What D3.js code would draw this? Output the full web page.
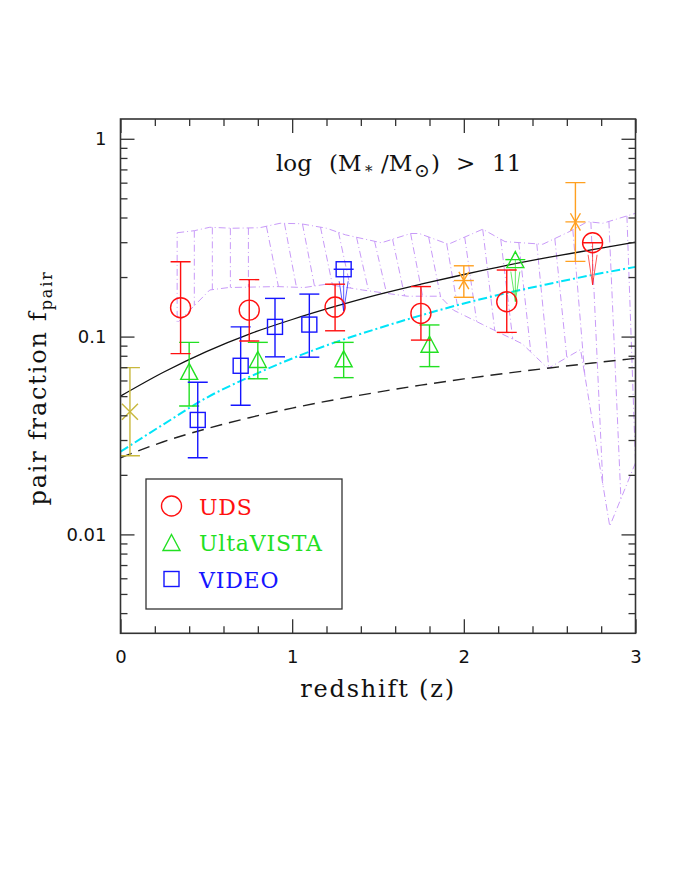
<!DOCTYPE html>
<html>
<head>
<meta charset="utf-8">
<script src="https://cdn.jsdelivr.net/npm/d3@7"></script>
<style>
body { margin: 0; background: #fff; }
text { font-family: "DejaVu Serif", serif; fill: #111; }
.tick text { font-family: "DejaVu Sans", sans-serif; font-size: 18px; fill: #111; }
.tick line { stroke: #333; stroke-width: 1.3; }
</style>
</head>
<body>
<svg id="chart" width="692" height="896"></svg>
<script>
// UDS (circles)
var udsZ = [0.35, 0.75, 1.25, 1.75, 2.25];
var udsF = [0.140, 0.136, 0.141, 0.131, 0.150];
var udsLo = [0.082, 0.095, 0.107, 0.096, 0.105];
var udsHi = [0.239, 0.194, 0.184, 0.179, 0.217];
var udsLimZ = [2.75];
var udsLimF = [0.298];

// UltraVISTA (triangles)
var uvZ = [0.40, 0.80, 1.30, 1.80];
var uvF = [0.0667, 0.0766, 0.0772, 0.0915];
var uvLo = [0.0446, 0.0612, 0.0620, 0.0705];
var uvHi = [0.0935, 0.0935, 0.0935, 0.1145];
var uvLimZ = [2.30];
var uvLimF = [0.245];

// VIDEO (squares)
var videoZ = [0.45, 0.70, 0.90, 1.10];
var videoF = [0.0379, 0.0712, 0.112, 0.115];
var videoLo = [0.0244, 0.0450, 0.0790, 0.0787];
var videoHi = [0.0588, 0.112, 0.156, 0.164];
var videoLimZ = [1.30];
var videoLimF = [0.219];

// other points: orange asterisks, olive cross
var starZ = [2.00, 2.65];
var starF = [0.192, 0.380];
var starLo = [0.158, 0.240];
var starHi = [0.228, 0.600];
var crossZ = [0.055];
var crossF = [0.0417];
var crossLo = [0.0250];
var crossHi = [0.0697];

// model curves
var curveZ = [0, 0.25, 0.5, 0.75, 1, 1.25, 1.5, 1.75, 2, 2.25, 2.5, 2.75, 3];
var solidF = [0.050, 0.066, 0.084, 0.103, 0.122, 0.142, 0.163, 0.184, 0.206, 0.229, 0.252, 0.275, 0.300];
var cyanF = [0.0262, 0.0360, 0.0490, 0.0625, 0.0775, 0.0935, 0.110, 0.128, 0.147, 0.166, 0.185, 0.205, 0.225];
var dashF = [0.0244, 0.0294, 0.0342, 0.0389, 0.0435, 0.0480, 0.0524, 0.0568, 0.0611, 0.0653, 0.0694, 0.0735, 0.0776];

// shaded band
var bandUpZ = [0.33, 0.43, 0.52, 0.65, 0.81, 0.93, 1.05, 1.20, 1.31, 1.52, 1.69, 1.74, 1.91, 2.11, 2.24, 2.46, 2.62, 2.72, 2.81, 3.00];
var bandUp = [0.335, 0.343, 0.357, 0.353, 0.355, 0.374, 0.372, 0.353, 0.327, 0.298, 0.332, 0.332, 0.293, 0.349, 0.302, 0.293, 0.341, 0.381, 0.374, 0.420];
var bandLoZ = [0.33, 0.52, 0.63, 0.91, 1.07, 1.20, 1.41, 1.67, 1.86, 1.94, 2.11, 2.34, 2.49, 2.68, 2.85, 3.00];
var bandLo = [0.117, 0.172, 0.177, 0.179, 0.177, 0.184, 0.172, 0.160, 0.160, 0.136, 0.115, 0.092, 0.069, 0.086, 0.011, 0.023];

var xTicks = [0, 1, 2, 3];
var yTicks = [0.01, 0.1, 1];

var red = "#ff1010", green = "#22e022", blue = "#1515ff", orange = "#ffa020",
    olive = "#c8b83c", cyan = "#00e4f8", purple = "#c89af8";

var svg = d3.select("#chart");
var x0 = 120.5, x1 = 635.5, yB = 633.3, yT = 119;

var x = d3.scaleLinear().domain([0, 3]).range([x0, x1]);
var y = d3.scaleLog().domain([Math.pow(10, -2.5), Math.pow(10, 0.1)]).range([yB, yT]);

svg.append("clipPath").attr("id", "clip")
    .append("rect").attr("x", x0).attr("y", yT).attr("width", x1 - x0).attr("height", yB - yT);

var plot = svg.append("g").attr("clip-path", "url(#clip)");

// band
var upAt = d3.scaleLinear().domain(bandUpZ).range(bandUp.map(Math.log10));
var loAt = d3.scaleLinear().domain(bandLoZ).range(bandLo.map(Math.log10));

var outline = bandUpZ.map(function (z, i) { return [x(z), y(bandUp[i])]; })
    .concat(bandLoZ.map(function (z, i) { return [x(z), y(bandLo[i])]; }).reverse());

plot.append("path")
    .attr("d", d3.line()(outline) + "Z")
    .attr("fill", "none")
    .attr("stroke", purple)
    .attr("stroke-width", 1)
    .attr("stroke-dasharray", "7,3,1,3");

for (var z = 0.43; z < 3.0; z += 0.105) {
    var z2 = Math.min(z + (z < 0.75 ? 0.0 : 0.07), 3);
    plot.append("line")
        .attr("x1", x(z)).attr("y1", y(Math.pow(10, upAt(z))))
        .attr("x2", x(z2)).attr("y2", y(Math.pow(10, loAt(z2))))
        .attr("stroke", purple)
        .attr("stroke-width", 1)
        .attr("stroke-dasharray", "7,3,1,3");
}

// model curves
function drawCurve(vals, color, dash, w) {
    var line = d3.line()
        .x(function (d, i) { return x(curveZ[i]); })
        .y(function (d) { return y(d); })
        .curve(d3.curveMonotoneX);
    plot.append("path")
        .attr("d", line(vals))
        .attr("fill", "none")
        .attr("stroke", color)
        .attr("stroke-width", w)
        .attr("stroke-dasharray", dash);
}
drawCurve(solidF, "#111", null, 1.3);
drawCurve(cyanF, cyan, "9,3,2,3", 2);
drawCurve(dashF, "#222", "12,7", 1.4);

// error bars
function errorBars(zs, lo, hi, color) {
    zs.forEach(function (z, i) {
        var g = plot.append("g").attr("stroke", color).attr("stroke-width", 1.4);
        g.append("line").attr("x1", x(z)).attr("x2", x(z)).attr("y1", y(lo[i])).attr("y2", y(hi[i]));
        g.append("line").attr("x1", x(z) - 10).attr("x2", x(z) + 10).attr("y1", y(lo[i])).attr("y2", y(lo[i]));
        g.append("line").attr("x1", x(z) - 10).attr("x2", x(z) + 10).attr("y1", y(hi[i])).attr("y2", y(hi[i]));
    });
}

function marker(g, type, cx, cy, color) {
    var m = g.append("g").attr("fill", "none").attr("stroke", color).attr("stroke-width", 1.4);
    if (type == "circle") {
        m.append("circle").attr("cx", cx).attr("cy", cy).attr("r", 10);
    } else if (type == "square") {
        m.append("rect").attr("x", cx - 7.5).attr("y", cy - 7.5).attr("width", 15).attr("height", 15);
    } else if (type == "triangle") {
        m.append("path").attr("d", "M" + cx + "," + (cy - 8) + "L" + (cx + 8.5) + "," + (cy + 8) + "L" + (cx - 8.5) + "," + (cy + 8) + "Z");
    } else if (type == "star") {
        [0, 60, 120].forEach(function (a) {
            var r = a * Math.PI / 180;
            m.append("line").attr("x1", cx - 10 * Math.cos(r)).attr("y1", cy - 10 * Math.sin(r))
                .attr("x2", cx + 10 * Math.cos(r)).attr("y2", cy + 10 * Math.sin(r));
        });
    } else if (type == "cross") {
        m.append("line").attr("x1", cx - 8).attr("y1", cy - 8).attr("x2", cx + 8).attr("y2", cy + 8);
        m.append("line").attr("x1", cx - 8).attr("y1", cy + 8).attr("x2", cx + 8).attr("y2", cy - 8);
    }
}

function points(zs, fs, type, color) {
    zs.forEach(function (z, i) { marker(plot, type, x(z), y(fs[i]), color); });
}

function upperLimits(zs, fs, type, color) {
    zs.forEach(function (z, i) {
        var cx = x(z), cy = y(fs[i]);
        marker(plot, type, cx, cy, color);
        var g = plot.append("g").attr("stroke", color).attr("fill", "none");
        g.append("line").attr("x1", cx - 10).attr("x2", cx + 10).attr("y1", cy).attr("y2", cy).attr("stroke-width", 1.4);
        g.append("line").attr("x1", cx).attr("x2", cx).attr("y1", cy).attr("y2", cy + 42).attr("stroke-width", 1).attr("opacity", 0.7);
        g.append("path").attr("d", "M" + (cx - 4.5) + "," + (cy + 12) + "L" + cx + "," + (cy + 42) + "L" + (cx + 4.5) + "," + (cy + 12))
            .attr("stroke-width", 1).attr("opacity", 0.7);
    });
}

errorBars(crossZ, crossLo, crossHi, olive);
points(crossZ, crossF, "cross", olive);
errorBars(starZ, starLo, starHi, orange);
points(starZ, starF, "star", orange);
errorBars(uvZ, uvLo, uvHi, green);
points(uvZ, uvF, "triangle", green);
upperLimits(uvLimZ, uvLimF, "triangle", green);
errorBars(videoZ, videoLo, videoHi, blue);
points(videoZ, videoF, "square", blue);
upperLimits(videoLimZ, videoLimF, "square", blue);
errorBars(udsZ, udsLo, udsHi, red);
points(udsZ, udsF, "circle", red);
upperLimits(udsLimZ, udsLimF, "circle", red);

// axes
var yMinor = [];
[-3, -2, -1, 0].forEach(function (e) {
    for (var k = 2; k <= 9; k++) {
        var v = k * Math.pow(10, e);
        if (v > y.domain()[0] && v < y.domain()[1]) yMinor.push(v);
    }
});
var xMinor = d3.range(0, 3.01, 0.2).filter(function (v) { return Math.abs(v - Math.round(v)) > 0.01; });

function addAxis(axis, tx, ty) {
    var g = svg.append("g").attr("transform", "translate(" + tx + "," + ty + ")").call(axis);
    g.select(".domain").remove();
    return g;
}
addAxis(d3.axisLeft(y).tickValues(yTicks).tickSize(-14).tickPadding(14).tickFormat(d3.format("")), x0, 0);
addAxis(d3.axisLeft(y).tickValues(yMinor).tickSize(-7).tickFormat(""), x0, 0);
addAxis(d3.axisRight(y).tickValues(yTicks).tickSize(-14).tickFormat(""), x1, 0);
addAxis(d3.axisRight(y).tickValues(yMinor).tickSize(-7).tickFormat(""), x1, 0);
addAxis(d3.axisBottom(x).tickValues(xTicks).tickSize(-14).tickPadding(17).tickFormat(d3.format("d")), 0, yB);
addAxis(d3.axisBottom(x).tickValues(xMinor).tickSize(-7).tickFormat(""), 0, yB);
addAxis(d3.axisTop(x).tickValues(xTicks).tickSize(-14).tickFormat(""), 0, yT);
addAxis(d3.axisTop(x).tickValues(xMinor).tickSize(-7).tickFormat(""), 0, yT);

svg.append("rect")
    .attr("x", x0).attr("y", yT).attr("width", x1 - x0).attr("height", yB - yT)
    .attr("fill", "none").attr("stroke", "#333").attr("stroke-width", 1.6);

// axis titles
svg.append("text")
    .attr("x", (x0 + x1) / 2).attr("y", 697)
    .attr("text-anchor", "middle")
    .attr("font-size", 24).attr("letter-spacing", 1.8)
    .text("redshift (z)");

var yl = svg.append("text")
    .attr("transform", "translate(46,388) rotate(-90)")
    .attr("text-anchor", "middle")
    .attr("font-size", 24).attr("letter-spacing", 1.8);
yl.append("tspan").text("pair fraction f");
yl.append("tspan").attr("font-size", 16).attr("dy", 6).text("pair");

// title
var tt = svg.append("text").attr("y", 171).attr("font-size", 23);
tt.append("tspan").attr("x", 276).text("log");
tt.append("tspan").attr("x", 329).text("(M");
tt.append("tspan").attr("x", 365).attr("dy", 5).attr("font-size", 15).text("*");
tt.append("tspan").attr("x", 381).attr("dy", -5).text("/M");
tt.append("tspan").attr("x", 414).attr("dy", 6).attr("font-size", 19).text("\u2299");
tt.append("tspan").attr("x", 431).attr("dy", -6).text(")");
tt.append("tspan").attr("x", 456).text(">");
tt.append("tspan").attr("x", 492).text("11");

// legend
var legend = svg.append("g");
legend.append("rect")
    .attr("x", 146).attr("y", 479).attr("width", 196).attr("height", 130)
    .attr("fill", "#fff").attr("stroke", "#333").attr("stroke-width", 1.3);
var legNames = ["UDS", "UltaVISTA", "VIDEO"];
var legTypes = ["circle", "triangle", "square"];
var legColors = [red, green, blue];
legNames.forEach(function (n, i) {
    var cy = 506 + i * 36.5;
    marker(legend, legTypes[i], 171.5, cy, legColors[i]);
    legend.append("text")
        .attr("x", 199).attr("y", cy + 8.5)
        .attr("font-size", 22).attr("letter-spacing", 0.8)
        .style("fill", legColors[i])
        .text(n);
});
</script>
</body>
</html>
